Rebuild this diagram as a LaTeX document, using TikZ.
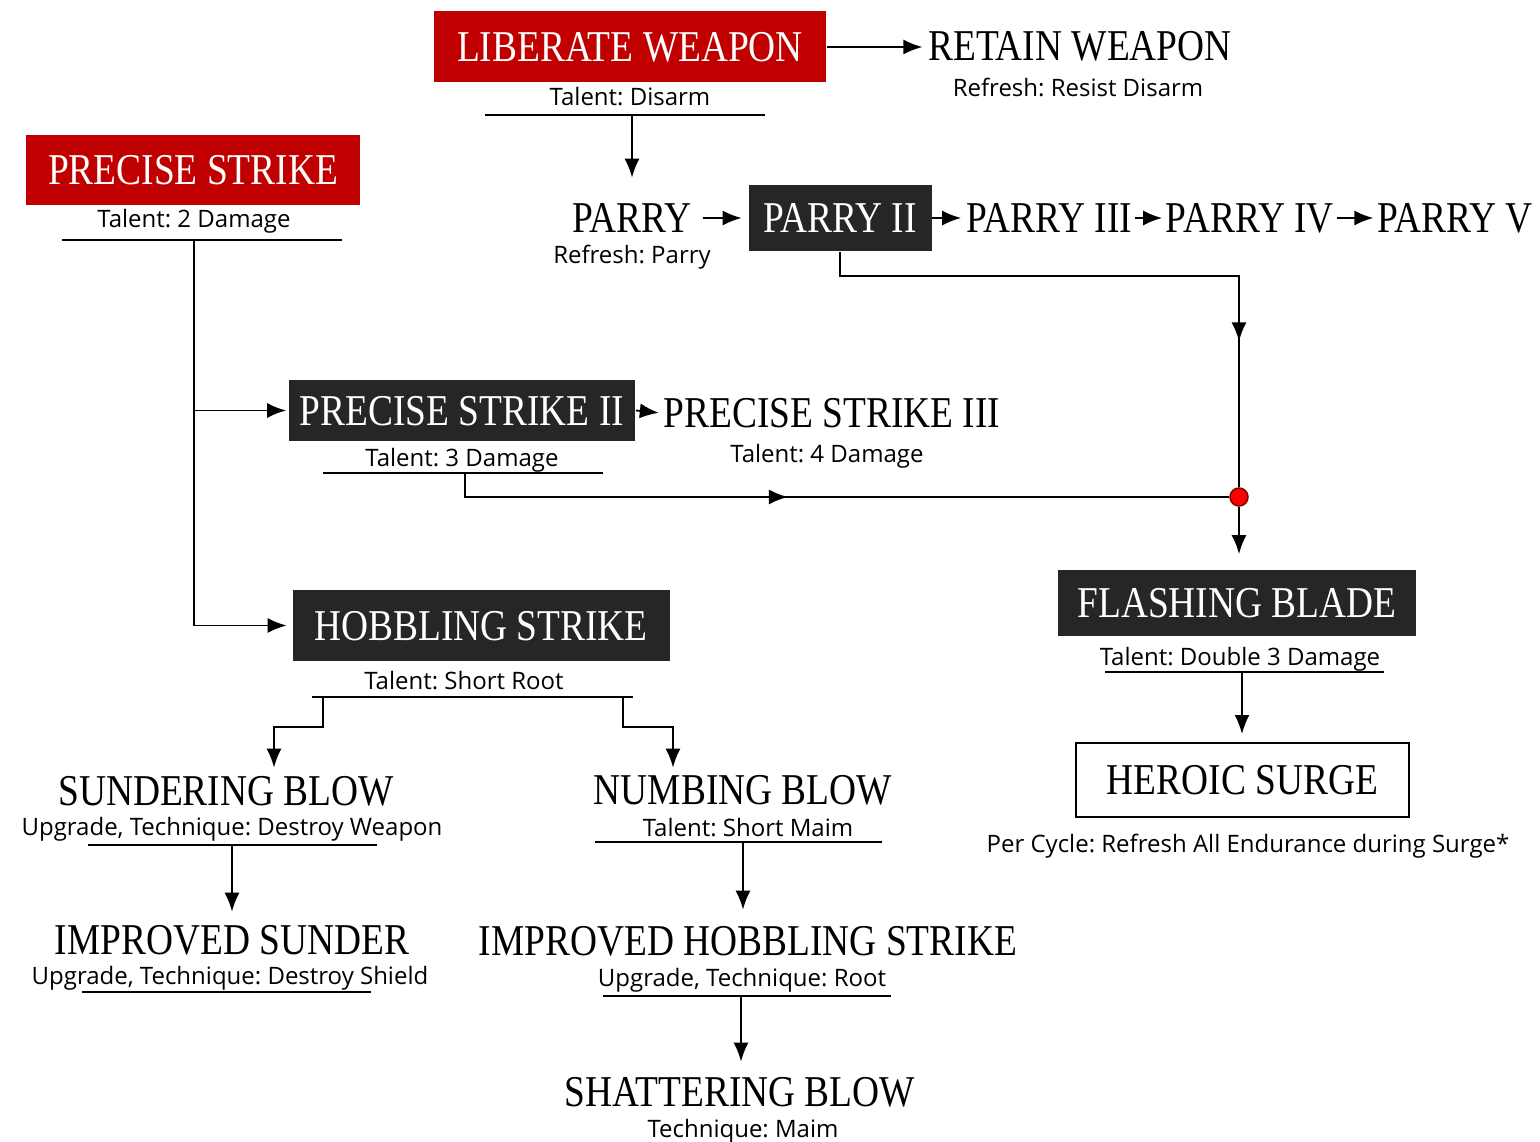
\documentclass[tikz,border=0pt]{standalone}
\usepackage{fontspec}
\usepackage{xcolor}
\usetikzlibrary{arrows.meta, decorations.markings}
\newfontfamily\titlefont[FakeStretch=0.85]{Liberation Serif}
\newfontfamily\subfont{Open Sans}
\definecolor{wpnred}{HTML}{C00000}
\definecolor{boxdark}{HTML}{262626}
\frenchspacing
\begin{document}
\begin{tikzpicture}[x=1pt, y=-1pt, line width=1.8pt,
    title/.style={font=\titlefont\fontsize{44}{48}\selectfont, text height=29pt, text depth=0pt, inner sep=2pt},
    sub/.style={font=\subfont\fontsize{24}{27}\selectfont, text height=20pt, text depth=2pt, inner sep=1pt},
    redbox/.style={title, fill=wpnred, text=white},
    darkbox/.style={title, fill=boxdark, text=white},
    plainbox/.style={title, draw, line width=2pt, fill=white},
    arr/.style={-{Latex[length=19pt,width=15pt]}},
    midarrow/.style={postaction={decorate}, decoration={markings, mark=at position #1 with {\arrow{Latex[length=19pt,width=15pt]}}}}]
        \useasboundingbox (0,0) rectangle (1540,1142);

        \node[redbox, minimum width=392pt, minimum height=71pt] (liberate) at (630,47) {LIBERATE WEAPON};
        \node[sub] (liberateSub) at (630,97) {Talent: Disarm};
        \node[title] (retain) at (1080,46) {RETAIN WEAPON};
        \node[sub] (retainSub) at (1078,88) {Refresh: Resist Disarm};

        \node[redbox, minimum width=334pt, minimum height=70pt] (precise) at (193,170) {PRECISE STRIKE};
        \node[sub] (preciseSub) at (194,219) {Talent: 2 Damage};

        \node[title] (parry) at (632,218) {PARRY};
        \node[sub] (parrySub) at (632,255) {Refresh: Parry};
        \node[darkbox, minimum width=183pt, minimum height=66pt] (parry2) at (840,218) {PARRY II};
        \node[title] (parry3) at (1049,218) {PARRY III};
        \node[title] (parry4) at (1250,218) {PARRY IV};
        \node[title] (parry5) at (1455,218) {PARRY V};

        \node[darkbox, minimum width=346pt, minimum height=61pt] (precise2) at (462,410.5) {PRECISE STRIKE II};
        \node[sub] (precise2Sub) at (462,457) {Talent: 3 Damage};
        \node[title] (precise3) at (832,413) {PRECISE STRIKE III};
        \node[sub] (precise3Sub) at (827,453) {Talent: 4 Damage};

        \node[circle, fill=red, draw=red!50!black, line width=1.5pt, minimum size=18pt, inner sep=0pt] (dot) at (1239,497) {};

        \node[darkbox, minimum width=377pt, minimum height=71pt] (hobbling) at (481,625.5) {HOBBLING STRIKE};
        \node[sub] (hobblingSub) at (464,680) {Talent: Short Root};

        \node[darkbox, minimum width=358pt, minimum height=66pt] (flashing) at (1237,603) {FLASHING BLADE};
        \node[sub] (flashingSub) at (1240,656) {Talent: Double 3 Damage};
        \node[plainbox, minimum width=333pt, minimum height=74pt] (heroic) at (1242.5,780) {HEROIC SURGE};
        \node[sub] (heroicSub) at (1248,843) {Per Cycle: Refresh All Endurance during Surge*};

        \node[title] (sundering) at (226,791) {SUNDERING BLOW};
        \node[sub] (sunderingSub) at (232,826) {Upgrade, Technique: Destroy Weapon};
        \node[title] (numbing) at (743,790) {NUMBING BLOW};
        \node[sub] (numbingSub) at (748,827) {Talent: Short Maim};

        \node[title] (impSunder) at (232,940) {IMPROVED SUNDER};
        \node[sub] (impSunderSub) at (230,975) {Upgrade, Technique: Destroy Shield};
        \node[title] (impHobbling) at (748,941) {IMPROVED HOBBLING STRIKE};
        \node[sub] (impHobblingSub) at (742,977) {Upgrade, Technique: Root};

        \node[title] (shattering) at (740,1092) {SHATTERING BLOW};
        \node[sub] (shatteringSub) at (743,1128) {Technique: Maim};

        \coordinate (liberateRule) at (632,115);
        \coordinate (preciseRule) at (194,240);
        \coordinate (precise2Rule) at (465,473);
        \coordinate (hobL) at (323,697);
        \coordinate (hobR) at (623,697);
        \coordinate (hobLmid) at (274,727);
        \coordinate (hobRmid) at (673,727);
        \coordinate (sunderingRule) at (232,845);
        \coordinate (numbingRule) at (743,842);
        \coordinate (impHobblingRule) at (741,996);
        \coordinate (flashingRule) at (1242,672);

        \draw (485,115) -- (765,115)
            (62,240) -- (342,240)
            (323,473) -- (603,473)
            (312,697) -- (633,697)
            (88,845) -- (377,845)
            (595,842) -- (882,842)
            (82,992) -- (371,992)
            (603,996) -- (891,996)
            (1105,672) -- (1384,672);

        \draw[arr, shorten >=3pt] (liberate.east) -- (liberate.east -| retain.west);
        \draw[arr, shorten >=23pt] (liberateRule) -- (liberateRule |- parry.north);
        \draw[arr, shorten <=8pt, shorten >=6pt] (parry.east) -- (parry2.west);
        \draw[arr, shorten >=2pt] (parry2.east) -- (parry3.west);
        \draw[arr, shorten >=1pt] (parry3.east) -- (parry4.west);
        \draw[arr, shorten >=1pt] (parry4.east) -- (parry5.west);
        \draw[arr, shorten >=2pt] (preciseRule) |- (precise2.west);
        \draw[arr, shorten >=5pt] (preciseRule) |- (hobbling.west);
        \draw[arr, shorten >=2pt] (precise2.east) -- (precise3.west);
        \draw[midarrow=0.77] (parry2.south) -- ++(0,24) -| (dot.north);
        \draw[midarrow=0.44] (precise2Rule) |- (dot.west);
        \draw[arr, shorten >=15pt] (dot.south) -- (dot |- flashing.north);
        \draw[arr, shorten >=8pt] (flashingRule) -- (flashingRule |- heroic.north);
        \draw[arr, shorten >=6pt] (hobL) |- (hobLmid) -- (hobLmid |- sundering.north);
        \draw[arr, shorten >=5pt] (hobR) |- (hobRmid) -- (hobRmid |- numbing.north);
        \draw[arr, shorten >=11pt] (sunderingRule) -- (sunderingRule |- impSunder.north);
        \draw[arr, shorten >=14pt] (numbingRule) -- (numbingRule |- impHobbling.north);
        \draw[arr, shorten >=13pt] (impHobblingRule) -- (impHobblingRule |- shattering.north);
    \end{tikzpicture}
\end{document}
